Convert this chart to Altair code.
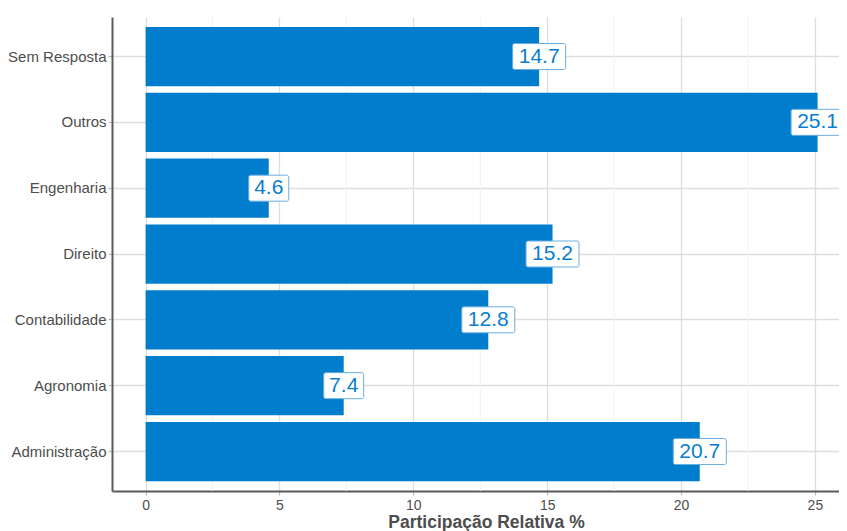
import altair as alt
import pandas as pd

categories = ["Sem Resposta", "Outros", "Engenharia", "Direito",
              "Contabilidade", "Agronomia", "Administração"]
values = [14.7, 25.1, 4.6, 15.2, 12.8, 7.4, 20.7]
x_ticks = [0, 5, 10, 15, 20, 25]
x_minor = [2.5, 7.5, 12.5, 17.5, 22.5]

df = pd.DataFrame({"curso": categories, "pct": values})
minor_df = pd.DataFrame({"v": x_minor})

W, H = 727, 474
BLUE = "#007ECD"
FONT = "Liberation Sans"
GRAY_TXT = "#4d4d4d"

xscale = alt.Scale(domain=[-1.255, 25.9], nice=False, zero=False)
yscale = alt.Scale(paddingInner=0.1, paddingOuter=0.15)

x_axis = alt.Axis(values=x_ticks, grid=True, gridColor="#dedede", gridWidth=1.3,
                  domainColor="#5a5a5a", domainWidth=2,
                  tickColor="#bdbdbd", tickSize=4, tickWidth=1.2,
                  labelFont=FONT, labelFontSize=14, labelColor=GRAY_TXT, labelPadding=3,
                  title="Participação Relativa %", titleFont=FONT, titleFontSize=17.5,
                  titleFontWeight="bold", titleColor=GRAY_TXT,
                  titleX=374, titleY=36.5, titleBaseline="alphabetic", titleAlign="center")
y_axis = alt.Axis(title=None, grid=True, gridColor="#dedede", gridWidth=1.3, bandPosition=0.5,
                  domainColor="#5a5a5a", domainWidth=2,
                  tickColor="#bdbdbd", tickSize=4, tickWidth=1.2,
                  labelFont=FONT, labelFontSize=15, labelColor=GRAY_TXT, labelPadding=2)

minor = alt.Chart(minor_df).mark_rule(color="#f2f2f2", strokeWidth=1).encode(
    x=alt.X("v:Q", scale=xscale, axis=x_axis)
)

base = alt.Chart(df).transform_calculate(
    label="format(datum.pct, '.1f')"
).transform_calculate(
    w="6.5*length(datum.label)+0.5"
).transform_calculate(
    box="'M' + (-datum.w + 2) + ',-13H' + (datum.w - 2) + 'A2,2 0 0 1 ' + datum.w + ',-11V11A2,2 0 0 1 ' + (datum.w - 2) + ',13H' + (-datum.w + 2) + 'A2,2 0 0 1 ' + (-datum.w) + ',11V-11A2,2 0 0 1 ' + (-datum.w + 2) + ',-13Z'"
)

bars = base.mark_bar(color=BLUE).encode(
    x=alt.X("pct:Q", scale=xscale, axis=x_axis),
    y=alt.Y("curso:N", sort=categories, scale=yscale, axis=y_axis),
)

boxes = base.mark_point(filled=True, fill="white", stroke="#6aaee0", strokeWidth=1,
                        opacity=1, fillOpacity=1, strokeOpacity=1).encode(
    x=alt.X("pct:Q", scale=xscale),
    y=alt.Y("curso:N", sort=categories, scale=yscale),
    shape=alt.Shape("box:N", scale=None, legend=None),
    size=alt.value(4),
)

texts = base.mark_text(font=FONT, fontSize=21, color="#0a7dcd", align="center",
                       baseline="middle").encode(
    x=alt.X("pct:Q", scale=xscale),
    y=alt.Y("curso:N", sort=categories, scale=yscale),
    text="label:N",
)

chart = alt.layer(minor, bars, boxes, texts).properties(
    width=W, height=H,
    autosize=alt.AutoSizeParams(type="none"),
    padding={"left": 104, "top": 9, "right": 0, "bottom": 40},
    background="white",
).configure_view(stroke=None)

chart.save("out.html", embed_options={"renderer": "svg", "actions": False})
